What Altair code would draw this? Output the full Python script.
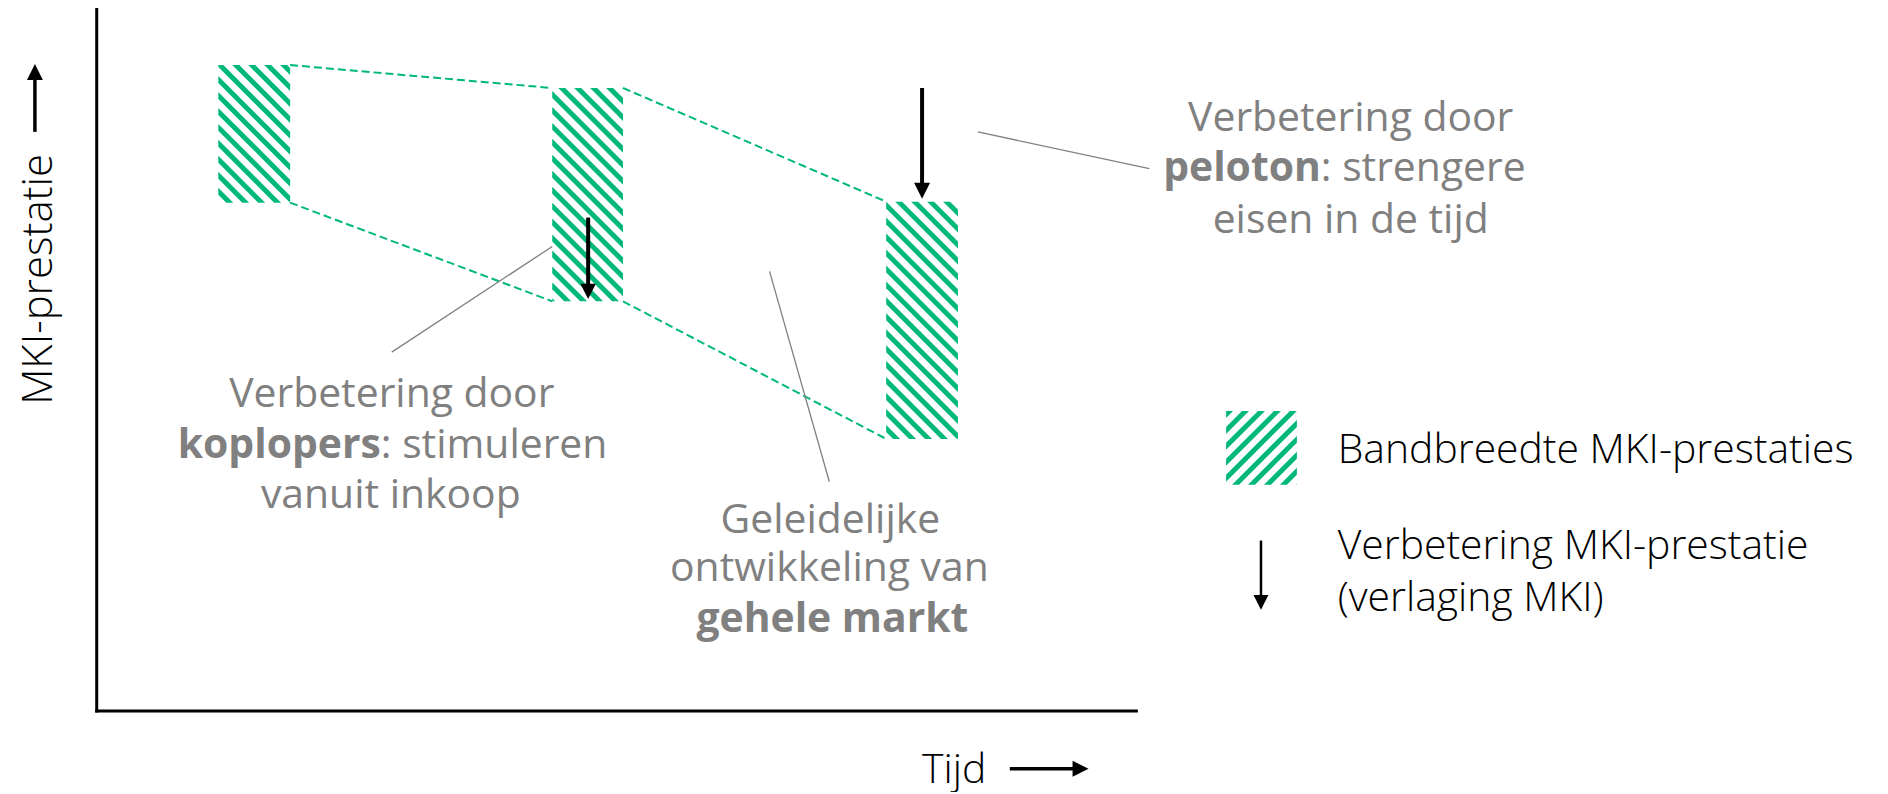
import altair as alt
import pandas as pd

# ---------------- data (page pixel coordinates of the conceptual diagram) ----------------
W, H = 1878, 784
GREEN = "#00b87a"
GRAY = "#808080"

# bands: left, right, top, bottom
band_names = ["begin", "midden", "eind"]
band_x0 = [219, 554, 889]
band_x1 = [291, 625, 961]
band_top = [64, 87, 201]
band_bottom = [202, 301, 439]

# legend swatch
swatch = [1230, 1301, 411, 485]

# axis frame
axis_x = [97, 97]
axis_y = [8, 712]
axis_x2 = [97, 1140]
axis_y2 = [712, 712]

# leader lines (x, y, x2, y2)
lead_x = [981, 554, 772]
lead_y = [131, 246, 271]
lead_x2 = [1153, 393, 832]
lead_y2 = [168, 352, 482]

# arrows: shaft start/end, head centre, head size, shaft width, shape
arr_x = [925, 590, 1265, 35, 1013]
arr_y = [87, 217, 541, 131, 770]
arr_x2 = [925, 590, 1265, 35, 1080]
arr_y2 = [186, 288, 600, 76, 770]
arr_hx = [925, 590, 1265, 35, 1084]
arr_hy = [190, 291, 603, 71, 770]
arr_size = [256, 240, 225, 256, 256]
arr_w = [4, 4, 2.5, 3.5, 3.5]
DOWN = "M-1,-1L1,-1L0,1Z"
UP = "M-1,1L1,1L0,-1Z"
RIGHT = "M-1,-1L-1,1L1,0Z"
arr_shape = [DOWN, DOWN, DOWN, UP, RIGHT]

# gray annotation text
gc_text = ["Verbetering door", "eisen in de tijd", "Verbetering door", "vanuit inkoop",
           "Geleidelijke", "ontwikkeling van"]
gc_x = [1355, 1355, 393, 392, 833, 832]
gc_y = [130, 232, 407, 508, 533, 582]
gcb_text = ["gehele markt"]
gcb_x = [835]
gcb_y = [633]
grb_text = ["peloton", "koplopers"]
grb_x = [1325, 382]
grb_y = [180, 458]
gl_text = [": strengere", ": stimuleren"]
gl_x = [1325, 382]
gl_y = [180, 458]

# black text (legend + axis titles)
bl_text = ["Bandbreedte MKI-prestaties", "Verbetering MKI-prestatie", "(verlaging MKI)", "Tijd"]
bl_x = [1342, 1342, 1342, 925]
bl_y = [463, 560, 612, 784]
ylab_text = ["MKI-prestatie"]
ylab_x = [52]
ylab_y = [279]

# ---------------- build tables ----------------
xs = alt.Scale(domain=[8, 8 + W], nice=False, zero=False)
ys = alt.Scale(domain=[8, 8 + H], reverse=True, nice=False, zero=False)


def X(f):
    return alt.X(f, type="quantitative", scale=xs, axis=None)


def Y(f):
    return alt.Y(f, type="quantitative", scale=ys, axis=None)


PERIOD = 16
WV = 7


def stripes(x0, x1, y0, y1, direction, prefix):
    rows = []
    if direction == "back":
        c = ((y0 - x1 - WV) // PERIOD) * PERIOD
        cmax = y1 - x0
        k = 0
        while c < cmax:
            xa = max(x0, y0 - c - WV)
            xb = min(x1, y1 - c)
            if xb > xa:
                cand = [xa, xb] + [v for v in (y0 - c, y1 - c, y0 - c - WV, y1 - c - WV) if xa < v < xb]
                for xv in sorted(set(cand)):
                    lo = max(y0, xv + c)
                    hi = min(y1, xv + c + WV)
                    rows.append({"sid": f"{prefix}{k}", "x": xv, "lo": lo, "hi": max(hi, lo)})
            c += PERIOD
            k += 1
    else:
        c = ((x0 + y0) // PERIOD) * PERIOD
        cmax = x1 + y1 + WV
        k = 0
        while c < cmax:
            xa = max(x0, c - WV - y1)
            xb = min(x1, c - y0)
            if xb > xa:
                cand = [xa, xb] + [v for v in (c - y0, c - y1, c - WV - y0, c - WV - y1) if xa < v < xb]
                for xv in sorted(set(cand)):
                    lo = max(y0, c - xv - WV)
                    hi = min(y1, c - xv)
                    rows.append({"sid": f"{prefix}{k}", "x": xv, "lo": lo, "hi": max(hi, lo)})
            c += PERIOD
            k += 1
    return rows


stripe_rows = []
for i, n in enumerate(band_names):
    stripe_rows += stripes(band_x0[i], band_x1[i], band_top[i], band_bottom[i], "back", n)
stripe_rows += stripes(swatch[0], swatch[1], swatch[2], swatch[3], "fwd", "legend")
stripe_df = pd.DataFrame(stripe_rows)

# dashed connectors between consecutive bands (corner to corner)
dash_rows = []
for i in range(len(band_names) - 1):
    dash_rows.append({"x": band_x1[i], "y": band_top[i], "x2": band_x0[i + 1], "y2": band_top[i + 1]})
    dash_rows.append({"x": band_x1[i], "y": band_bottom[i], "x2": band_x0[i + 1], "y2": band_bottom[i + 1]})
dash_df = pd.DataFrame(dash_rows)

axis_df = pd.DataFrame({"x": axis_x, "y": axis_y, "x2": axis_x2, "y2": axis_y2})
lead_df = pd.DataFrame({"x": lead_x, "y": lead_y, "x2": lead_x2, "y2": lead_y2})
arr_df = pd.DataFrame({"x": arr_x, "y": arr_y, "x2": arr_x2, "y2": arr_y2, "hx": arr_hx, "hy": arr_hy,
                       "s": arr_size, "w": arr_w, "shape": arr_shape})


def seg_layer(df, **mk):
    return alt.Chart(df).mark_rule(**mk).encode(x=X("x"), y=Y("y"), x2="x2", y2="y2")


def text_layer(texts, xv, yv, **mk):
    df = pd.DataFrame({"t": texts, "x": xv, "y": yv})
    return alt.Chart(df).mark_text(baseline="alphabetic", **mk).encode(x=X("x"), y=Y("y"), text="t:N")


FONT = "Open Sans"

layers = [
    seg_layer(axis_df, color="black", strokeWidth=3, strokeCap="square"),
    seg_layer(dash_df, color=GREEN, strokeWidth=2, strokeDash=[8, 4]),
    seg_layer(lead_df, color=GRAY, strokeWidth=1.3),
    alt.Chart(stripe_df).mark_area(color=GREEN, opacity=1, interpolate="linear").encode(
        x=X("x"), y=Y("lo"), y2="hi", detail="sid:N"),
    alt.Chart(arr_df).mark_rule(color="black").encode(
        x=X("x"), y=Y("y"), x2="x2", y2="y2", strokeWidth=alt.StrokeWidth("w:Q", scale=None)),
    alt.Chart(arr_df).mark_point(filled=True, color="black", opacity=1, strokeWidth=0).encode(
        x=X("hx"), y=Y("hy"), size=alt.Size("s:Q", scale=None), shape=alt.Shape("shape:N", scale=None)),
    text_layer(gc_text, gc_x, gc_y, align="center", font=FONT, fontSize=41, color=GRAY),
    text_layer(gcb_text, gcb_x, gcb_y, align="center", font=FONT, fontSize=41, fontWeight="bold", color=GRAY),
    text_layer(grb_text, grb_x, grb_y, align="right", font=FONT, fontSize=41, fontWeight="bold", color=GRAY),
    text_layer(gl_text, gl_x, gl_y, align="left", font=FONT, fontSize=41, color=GRAY),
    text_layer(bl_text, bl_x, bl_y, align="left", font=FONT, fontSize=41, fontWeight=300, color="black"),
    text_layer(ylab_text, ylab_x, ylab_y, align="center", angle=270, font=FONT, fontSize=42,
               fontWeight=300, color="black"),
]

chart = alt.layer(*layers).properties(
    width=W, height=H, padding=0, autosize="none"
).configure_view(stroke=None)

chart.save("out.html", embed_options={"renderer": "svg", "actions": False})
